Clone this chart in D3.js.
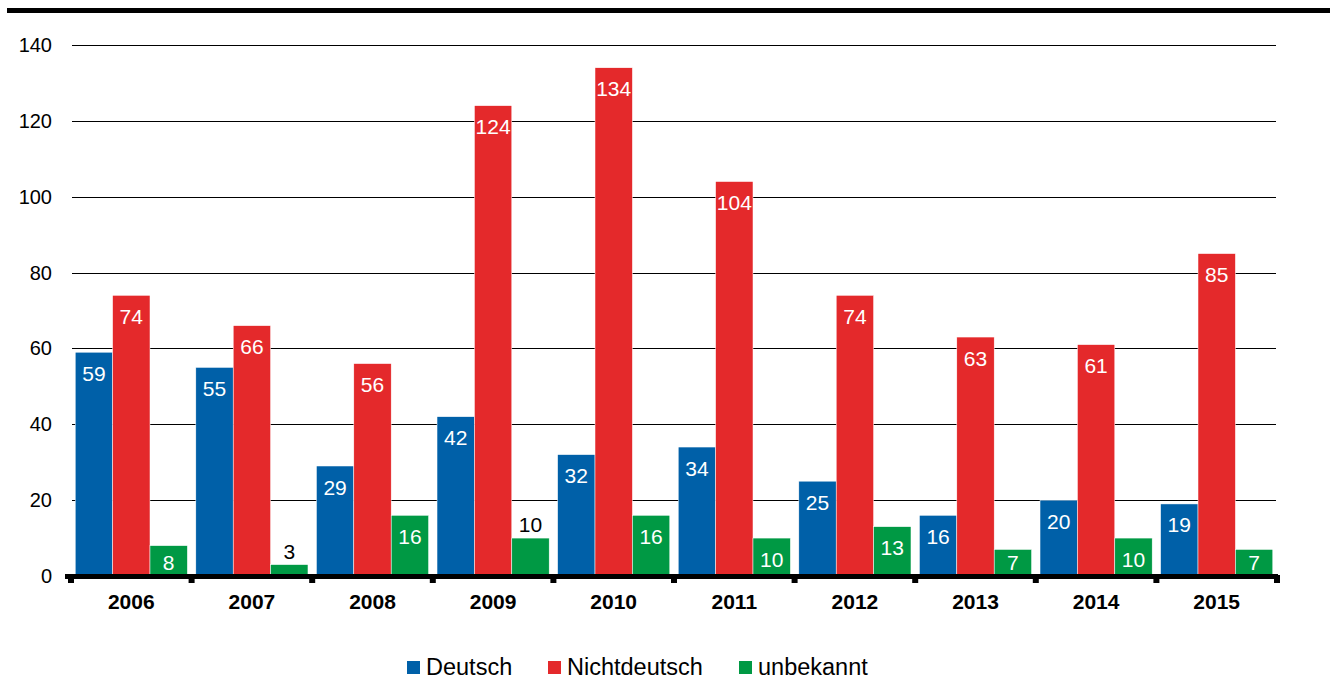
<!DOCTYPE html>
<html><head><meta charset="utf-8">
<script src="https://cdn.jsdelivr.net/npm/d3@7"></script>
<style>body{margin:0;background:#fff}svg{display:block;font-family:"Liberation Sans",Arial,sans-serif}</style>
</head><body><svg id="c" width="1336" height="679"></svg>
<script>
const years = ["2006","2007","2008","2009","2010","2011","2012","2013","2014","2015"];
const series = ["Deutsch","Nichtdeutsch","unbekannt"];
const deutsch = [59,55,29,42,32,34,25,16,20,19];
const nichtdeutsch = [74,66,56,124,134,104,74,63,61,85];
const unbekannt = [8,3,16,10,16,10,13,7,10,7];
const outsideLabel = [[false,false,false],[false,false,true],[false,false,false],[false,false,true],[false,false,false],[false,false,false],[false,false,false],[false,false,false],[false,false,false],[false,false,false]];
const yTicks = [0,20,40,60,80,100,120,140];
const colors = ["#0060a8","#e4292b","#009944"];

const values = [deutsch, nichtdeutsch, unbekannt];
const svg = d3.select("#c");
const x = d3.scaleBand().domain(years).range([71,1277]).paddingInner(0.07).paddingOuter(0.035);
const xs = d3.scaleBand().domain(series).range([0,x.bandwidth()]);
const y = d3.scaleLinear().domain([0,140]).range([576,45]);
const color = d3.scaleOrdinal().domain(series).range(colors);

// top rule
svg.append("rect").attr("x",7).attr("y",8).attr("width",1323).attr("height",5).attr("fill","#000");

// gridlines
svg.append("g").selectAll("line").data(yTicks.filter(d=>d>0)).join("line")
  .attr("x1",72).attr("x2",1276).attr("y1",d=>Math.round(y(d))+0.5).attr("y2",d=>Math.round(y(d))+0.5)
  .attr("stroke","#000").attr("stroke-width",1);

// y labels
svg.append("g").selectAll("text").data(yTicks).join("text")
  .attr("x",52).attr("y",d=>y(d)+7).attr("text-anchor","end")
  .attr("font-size",20).attr("fill","#000").text(d=>d);

// bars
const rows = years.map((yr,i)=>({yr, i, vals: series.map((s,j)=>({s, j, v: values[j][i], out: outsideLabel[i][j]}))}));
const g = svg.append("g").selectAll("g").data(rows).join("g").attr("transform",d=>`translate(${x(d.yr)},0)`);
g.selectAll("rect").data(d=>d.vals).join("rect")
  .attr("x",d=>xs(d.s)).attr("width",xs.bandwidth())
  .attr("y",d=>y(d.v)).attr("height",d=>y(0)-y(d.v))
  .attr("fill",d=>color(d.s)).attr("stroke","#fff").attr("stroke-width",0.5);
g.selectAll("text").data(d=>d.vals).join("text")
  .attr("x",d=>xs(d.s)+xs.bandwidth()/2)
  .attr("y",d=>d.out ? y(d.v)-6 : Math.min(y(d.v)+21, y(0)-13.5)+7.5)
  .attr("text-anchor","middle").attr("font-size",21)
  .attr("fill",d=>d.out?"#000":"#fff").text(d=>d.v);

// x axis
svg.append("rect").attr("x",65).attr("y",574).attr("width",1213).attr("height",5).attr("fill","#000");
const bounds = d3.range(0,11).map(k=>71 + k*x.step());
svg.append("g").selectAll("rect").data(bounds).join("rect")
  .attr("x",d=>d-3).attr("y",575).attr("width",6).attr("height",8).attr("fill","#000");
svg.append("g").selectAll("text").data(years).join("text")
  .attr("x",d=>x(d)+x.bandwidth()/2).attr("y",609).attr("text-anchor","middle")
  .attr("font-size",21).attr("font-weight","bold").attr("fill","#000").text(d=>d);

// legend
const legX = [407,548,739];
const lg = svg.append("g").selectAll("g").data(series).join("g").attr("transform",(d,i)=>`translate(${legX[i]},0)`);
lg.append("rect").attr("x",0).attr("y",661).attr("width",13).attr("height",13).attr("fill",d=>color(d));
lg.append("text").attr("x",19).attr("y",675).attr("font-size",23.5).attr("fill","#000").text(d=>d);
</script></body></html>
